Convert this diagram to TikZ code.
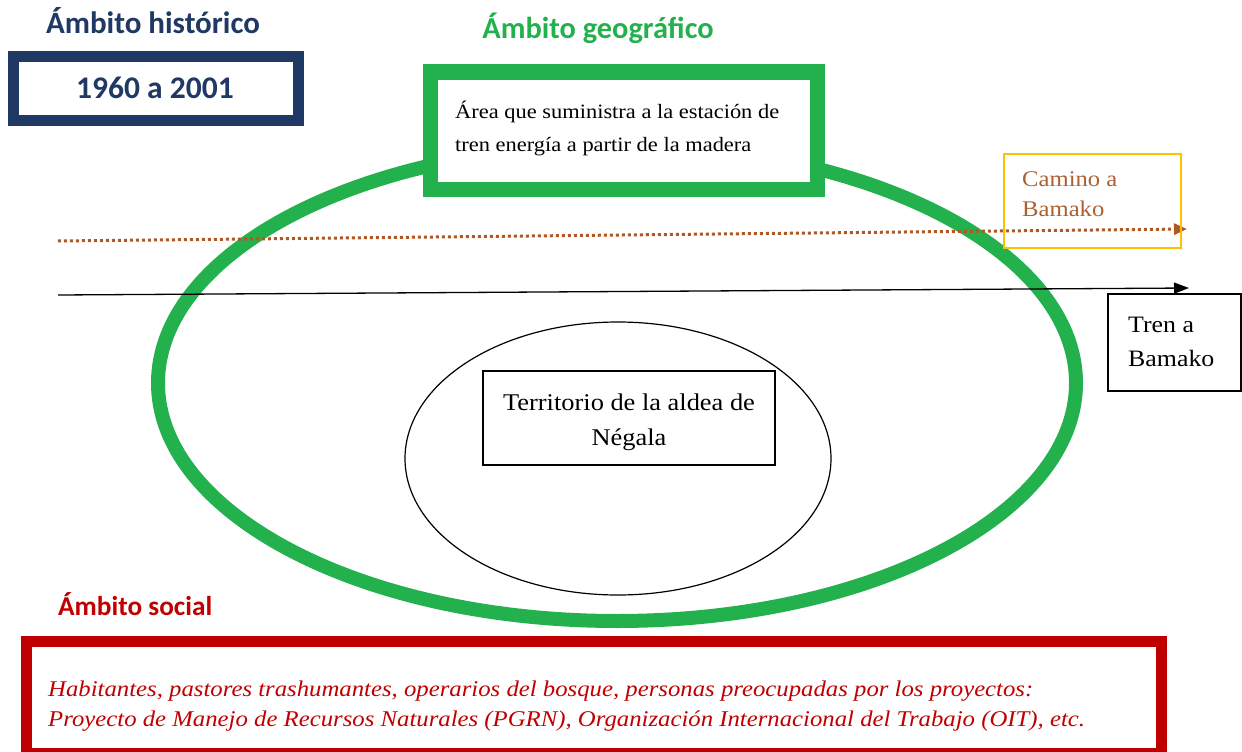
\documentclass[tikz,border=0pt]{standalone}
\usepackage{fontspec}
\usetikzlibrary{shapes.geometric,arrows.meta}
\newfontfamily\hdrfont{Carlito}
\newfontfamily\serfont[FakeStretch=1.1]{Liberation Serif}
\definecolor{navy}{RGB}{31,56,100}
\definecolor{geo}{RGB}{34,177,76}
\definecolor{soc}{RGB}{192,0,0}
\definecolor{roadc}{RGB}{176,88,36}
\definecolor{roadtxt}{RGB}{172,96,50}
\definecolor{ambar}{RGB}{255,192,0}
\tikzset{
  hdr/.style={font=\hdrfont\bfseries\fontsize{28}{30}\selectfont, inner sep=0pt},
  sertxt/.style={inner sep=0pt},
  frame/.style={draw, rectangle, inner sep=0pt, outer sep=0pt},
}
\begin{document}
\begin{tikzpicture}[x=1pt,y=-1pt]
\useasboundingbox (0,0) rectangle (1242,752);
\clip (0,0) rectangle (1242,752);
% big green ellipse
\node[draw=geo, line width=14pt, ellipse, minimum width=918pt, minimum height=476pt, inner sep=0pt] (geoell) at (617,383) {};
% inner village ellipse
\node[draw=black, line width=1.2pt, ellipse, minimum width=426pt, minimum height=273pt, inner sep=0pt] (vill) at (618,458.5) {};
\node[frame, line width=1.2pt, minimum width=292pt, minimum height=94pt] (terr) at (629,418) {};
\node[sertxt, font=\serfont\fontsize{24}{35}\selectfont, align=center] (terrtxt) at (629,422) {Territorio de la aldea de\\Négala};
% routes
\coordinate (roadS) at (58,241);
\coordinate (roadE) at (1187,229);
\coordinate (railS) at (58,295);
\coordinate (railE) at (1189,288);
\draw[roadc, line width=3pt, dash pattern=on 3pt off 3pt, -{Triangle[length=13pt,width=11pt]}] (roadS) -- (roadE);
\draw[black, line width=1.3pt, -{Triangle[length=15pt,width=11pt]}] (railS) -- (railE);
% geographic box
\node[frame, draw=geo, fill=white, line width=15pt, minimum width=387.5pt, minimum height=117pt] (area) at (623.75,130.5) {};
\node[sertxt, font=\serfont\fontsize{20.4}{33}\selectfont, align=left, anchor=west] (areatxt) at (455,128) {Área que suministra a la estación de\\tren energía a partir de la madera};
% road label
\node[frame, draw=ambar, line width=1.2pt, minimum width=177pt, minimum height=94pt] (camino) at (1092.5,201) {};
\node[sertxt, text=roadtxt, font=\serfont\fontsize{22.4}{30}\selectfont, align=left, anchor=west] (caminotxt) at (1022,194) {Camino a\\Bamako};
% rail label
\node[frame, line width=1.2pt, minimum width=133pt, minimum height=97pt] (tren) at (1174.5,342.5) {};
\node[sertxt, font=\serfont\fontsize{23.5}{34}\selectfont, align=left, anchor=west] (trentxt) at (1128,342) {Tren a\\Bamako};
% headers
\node[hdr, font=\hdrfont\bfseries\fontsize{31}{33}\selectfont, text=navy, anchor=base] (hhist) at (153,34) {Ámbito histórico};
\node[hdr, font=\hdrfont\bfseries\fontsize{30.4}{33}\selectfont, text=geo, anchor=base] (hgeo) at (598,39) {Ámbito geográfico};
\node[hdr, font=\hdrfont\bfseries\fontsize{27.3}{30}\selectfont, text=soc, anchor=base west] (hsoc) at (58,615) {Ámbito social};
% historic box
\node[frame, draw=navy, line width=11pt, minimum width=285pt, minimum height=64pt] (hist) at (156,88.5) {};
\node[hdr, text=navy, font=\hdrfont\bfseries\fontsize{31.5}{33}\selectfont, anchor=base] (histtxt) at (155,98.5) {1960 a 2001};
% social box
\node[frame, draw=soc, line width=11pt, minimum width=1134.5pt, minimum height=112pt, anchor=north west] (socbox) at (26.5,641.5) {};
\node[sertxt, text=soc, font=\serfont\itshape\fontsize{22.5}{30}\selectfont, align=left, anchor=west] (soctxt) at (48,706) {Habitantes, pastores trashumantes, operarios del bosque, personas preocupadas por los proyectos:\\Proyecto de Manejo de Recursos Naturales (PGRN), Organización Internacional del Trabajo (OIT), etc.};
\end{tikzpicture}
\end{document}
